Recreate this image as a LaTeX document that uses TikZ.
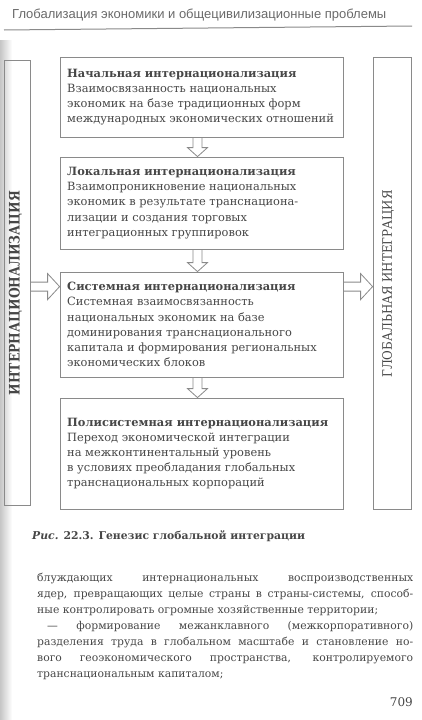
\documentclass[tikz,border=0pt]{standalone}
\usepackage{fontspec}
\setmainfont{DejaVu Serif}
\setsansfont{Liberation Sans}
\usetikzlibrary{calc}
\definecolor{ink}{HTML}{474747}
\definecolor{frame}{HTML}{8A8A8A}
\definecolor{headc}{HTML}{6A6A6A}
\tikzset{
  box/.style={draw=frame, line width=0.8pt, rectangle, inner sep=0pt, minimum width=283pt},
  tallbox/.style={draw=frame, line width=0.8pt, rectangle, inner sep=0pt},
  boxtext/.style={anchor=west, align=left, inner sep=0pt, text=ink, font=\fontsize{11.4}{15.2}\selectfont},
  blk/.style={draw=frame, line width=0.8pt, line join=miter},
  bodyline/.style={anchor=base west, inner sep=0pt, text=ink, font=\fontsize{10.8}{16}\selectfont},
}
\begin{document}
\begin{tikzpicture}[x=1pt,y=-1pt]
\useasboundingbox (0,0) rectangle (421,720);
\fill[white] (0,0) rectangle (421,720);
\shade[left color=gray!45, right color=white] (0,40) rectangle (12,720);

% header
\node[anchor=base west, inner sep=0pt, text=headc, font=\sffamily\fontsize{13}{15}\selectfont] (hd) at (12,19) {Глобализация экономики и общецивилизационные проблемы};
\draw[frame, line width=1pt] (4,30) -- (412,26);

% tall side boxes
\node[tallbox, minimum width=26pt, minimum height=445pt] (L) at (17,282.5) {};
\node[tallbox, minimum width=38pt, minimum height=452pt] (R) at (392,283) {};
\node[rotate=90, inner sep=0pt, text=ink, font=\bfseries\fontsize{14.5}{15}\selectfont] (Lt) at (15.5,293) {\scalebox{0.85}[1]{ИНТЕРНАЦИОНАЛИЗАЦИЯ}};
\node[rotate=90, inner sep=0pt, text=ink, font=\fontsize{13}{14}\selectfont] (Rt) at (388,284) {\scalebox{0.91}[1]{ГЛОБАЛЬНАЯ ИНТЕГРАЦИЯ}};

% main boxes
\node[box, minimum height=80pt] (b1) at (201.5,97) {};
\node[box, minimum height=92pt] (b2) at (201.5,203) {};
\node[box, minimum height=105pt] (b3) at (201.5,324.5) {};
\node[box, minimum height=111pt] (b4) at (201.5,453.5) {};

\node[boxtext] (t1) at (67,97) {\textbf{Начальная интернационализация}\\Взаимосвязанность национальных\\экономик на базе традиционных форм\\международных экономических отношений};
\node[boxtext] (t2) at (67,203) {\textbf{Локальная интернационализация}\\Взаимопроникновение национальных\\экономик в результате транснациона-\\лизации и создания торговых\\интеграционных группировок};
\node[boxtext] (t3) at (67,324.5) {\textbf{Системная интернационализация}\\Системная взаимосвязанность\\национальных экономик на базе\\доминирования транснационального\\капитала и формирования региональных\\экономических блоков};
\node[boxtext] (t4) at (67,453.5) {\textbf{Полисистемная интернационализация}\\Переход экономической интеграции\\на межконтинентальный уровень\\в условиях преобладания глобальных\\транснациональных корпораций};

% down block arrows
\foreach \a/\b in {b1/b2, b2/b3, b3/b4}{
  \draw[blk] let \p1=(\a.south), \p2=(\b.north) in
    (\x1-8.5pt,\y1) -- (\x1-8.5pt,\y2+9pt) -- (\x1-14pt,\y2+9pt) -- (\x1-4pt,\y2)
    -- (\x1+6pt,\y2+9pt) -- (\x1+0.5pt,\y2+9pt) -- (\x1+0.5pt,\y1);
}
% left block arrow
\draw[blk] let \p1=(L.east), \p2=(b3.north west) in
  (\x1,\y2-10.5pt) -- (\x2-12pt,\y2-10.5pt) -- (\x2-12pt,\y2-2pt) -- (\x2,\y2-15pt)
  -- (\x2-12pt,\y2-28pt) -- (\x2-12pt,\y2-19.5pt) -- (\x1,\y2-19.5pt);
% right block arrow
\draw[blk] let \p1=(b3.north east), \p2=(R.west) in
  (\x1,\y1-10.5pt) -- (\x2-12pt,\y1-10.5pt) -- (\x2-12pt,\y1-2pt) -- (\x2,\y1-15pt)
  -- (\x2-12pt,\y1-28pt) -- (\x2-12pt,\y1-19.5pt) -- (\x1,\y1-19.5pt);

% caption
\node[anchor=base west, inner sep=0pt, text=ink, font=\bfseries\fontsize{10.8}{14}\selectfont] (cap) at (32,539) {\textit{Рис.} 22.3. Генезис глобальной интеграции};

% body text
\node[bodyline] (l1) at (37,581) {\makebox[376pt][s]{блуждающих интернациональных воспроизводственных}};
\node[bodyline] (l2) at (37,597) {\makebox[376pt][s]{ядер, превращающих целые страны в страны-системы, способ-}};
\node[bodyline] (l3) at (37,613) {ные контролировать огромные хозяйственные территории;};
\node[bodyline] (l4) at (47,629) {\makebox[366pt][s]{— формирование межанклавного (межкорпоративного)}};
\node[bodyline] (l5) at (37,645) {\makebox[376pt][s]{разделения труда в глобальном масштабе и становление но-}};
\node[bodyline] (l6) at (37,661) {\makebox[376pt][s]{вого геоэкономического пространства, контролируемого}};
\node[bodyline] (l7) at (37,677) {транснациональным капиталом;};
\node[anchor=base east, inner sep=0pt, text=ink, font=\fontsize{12}{14}\selectfont] (pg) at (413,706) {709};
\end{tikzpicture}
\end{document}
